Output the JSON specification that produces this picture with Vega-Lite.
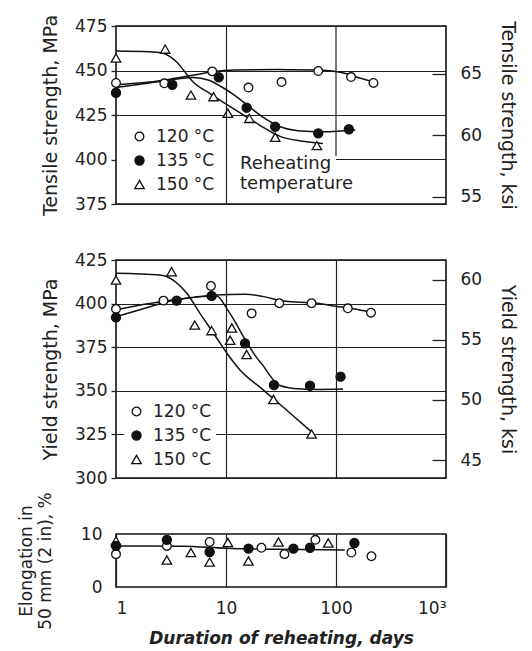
{
  "$schema": "https://vega.github.io/schema/vega-lite/v6.json",
  "background": "white",
  "padding": {"left": 16, "top": 13, "right": 5, "bottom": 5},
  "spacing": 56,
  "bounds": "flush",
  "config": {
    "font": "DejaVu Sans",
    "view": {"stroke": "#111", "strokeWidth": 1.6},
    "axis": {
      "labelFont": "DejaVu Sans", "labelFontSize": 17, "labelColor": "#222",
      "titleFont": "DejaVu Sans", "titleFontSize": 19, "titleFontWeight": "normal", "titleColor": "#222",
      "gridColor": "#222", "gridOpacity": 1, "gridWidth": 1.2, "tickColor": "#222", "tickWidth": 1.3, "domain": false
    },
    "legend": {
      "orient": "none", "padding": 4, "rowPadding": 6, "labelOffset": 8,
      "labelFont": "DejaVu Sans", "labelFontSize": 17, "labelColor": "#222",
      "titleFont": "DejaVu Sans", "titleFontSize": 18, "titleFontWeight": "normal", "titleColor": "#222",
      "symbolStrokeColor": "#111", "symbolStrokeWidth": 1.3, "zindex": 1
    }
  },
  "datasets": {
    "tensile_pts": [
      {"temp": "120 °C", "days": 1, "mpa": 443}, {"temp": "120 °C", "days": 2.75, "mpa": 442.8}, {"temp": "120 °C", "days": 7.5, "mpa": 449.5}, {"temp": "120 °C", "days": 16, "mpa": 440.4}, {"temp": "120 °C", "days": 32, "mpa": 443.5}, {"temp": "120 °C", "days": 69, "mpa": 449.7}, {"temp": "120 °C", "days": 137, "mpa": 446.3}, {"temp": "120 °C", "days": 219, "mpa": 443},
      {"temp": "135 °C", "days": 1, "mpa": 437.5}, {"temp": "135 °C", "days": 3.25, "mpa": 442}, {"temp": "135 °C", "days": 8.6, "mpa": 446.2}, {"temp": "135 °C", "days": 15.4, "mpa": 429.1}, {"temp": "135 °C", "days": 28, "mpa": 418.4}, {"temp": "135 °C", "days": 69, "mpa": 414.7}, {"temp": "135 °C", "days": 131, "mpa": 417},
      {"temp": "150 °C", "days": 1, "mpa": 457}, {"temp": "150 °C", "days": 2.8, "mpa": 462}, {"temp": "150 °C", "days": 4.8, "mpa": 436.2}, {"temp": "150 °C", "days": 7.7, "mpa": 435.3}, {"temp": "150 °C", "days": 10.4, "mpa": 426}, {"temp": "150 °C", "days": 16.3, "mpa": 423.1}, {"temp": "150 °C", "days": 28, "mpa": 412.5}, {"temp": "150 °C", "days": 67, "mpa": 407.8}
    ],
    "tensile_curves": [
      {"temp": "120 °C", "days": 1, "mpa": 442}, {"temp": "120 °C", "days": 2, "mpa": 443.5}, {"temp": "120 °C", "days": 3, "mpa": 445}, {"temp": "120 °C", "days": 5, "mpa": 447.3}, {"temp": "120 °C", "days": 7.5, "mpa": 449.3}, {"temp": "120 °C", "days": 12, "mpa": 450.3}, {"temp": "120 °C", "days": 30, "mpa": 450.5}, {"temp": "120 °C", "days": 70, "mpa": 450.3}, {"temp": "120 °C", "days": 110, "mpa": 449}, {"temp": "120 °C", "days": 150, "mpa": 446.5}, {"temp": "120 °C", "days": 220, "mpa": 443.5},
      {"temp": "135 °C", "days": 1, "mpa": 440.5}, {"temp": "135 °C", "days": 2, "mpa": 443}, {"temp": "135 °C", "days": 3, "mpa": 444.5}, {"temp": "135 °C", "days": 5, "mpa": 446}, {"temp": "135 °C", "days": 7, "mpa": 444.5}, {"temp": "135 °C", "days": 9, "mpa": 441}, {"temp": "135 °C", "days": 12, "mpa": 436}, {"temp": "135 °C", "days": 16, "mpa": 430}, {"temp": "135 °C", "days": 22, "mpa": 423.5}, {"temp": "135 °C", "days": 31, "mpa": 418.4}, {"temp": "135 °C", "days": 45, "mpa": 416.2}, {"temp": "135 °C", "days": 76, "mpa": 415.6}, {"temp": "135 °C", "days": 150, "mpa": 416.6},
      {"temp": "150 °C", "days": 1, "mpa": 461}, {"temp": "150 °C", "days": 2, "mpa": 460.6}, {"temp": "150 °C", "days": 2.6, "mpa": 460}, {"temp": "150 °C", "days": 3.1, "mpa": 457.8}, {"temp": "150 °C", "days": 3.6, "mpa": 454.5}, {"temp": "150 °C", "days": 4.1, "mpa": 450.3}, {"temp": "150 °C", "days": 5, "mpa": 443.7}, {"temp": "150 °C", "days": 7.1, "mpa": 437.2}, {"temp": "150 °C", "days": 10.9, "mpa": 429.7}, {"temp": "150 °C", "days": 14, "mpa": 425.5}, {"temp": "150 °C", "days": 20, "mpa": 419.5}, {"temp": "150 °C", "days": 31, "mpa": 413}, {"temp": "150 °C", "days": 50, "mpa": 410.3}, {"temp": "150 °C", "days": 76, "mpa": 409}
    ],
    "tensile_grid_h": [{"mpa": 400, "from": 100, "to": 1000}],
    "tensile_grid_v": [{"days": 100, "low": 402, "high": 475}],
    "tensile_ksi": [{"ksi": 55}, {"ksi": 60}, {"ksi": 65}],
    "yield_pts": [
      {"temp": "120 °C", "days": 1, "mpa": 396.9}, {"temp": "120 °C", "days": 2.7, "mpa": 401.7}, {"temp": "120 °C", "days": 7.3, "mpa": 410.1}, {"temp": "120 °C", "days": 17.1, "mpa": 394.4}, {"temp": "120 °C", "days": 30.5, "mpa": 400.2}, {"temp": "120 °C", "days": 60, "mpa": 400.2}, {"temp": "120 °C", "days": 128, "mpa": 397.3}, {"temp": "120 °C", "days": 208, "mpa": 394.8},
      {"temp": "135 °C", "days": 1, "mpa": 392.1}, {"temp": "135 °C", "days": 3.56, "mpa": 401.7}, {"temp": "135 °C", "days": 7.4, "mpa": 404.4}, {"temp": "135 °C", "days": 14.9, "mpa": 377.2}, {"temp": "135 °C", "days": 27.3, "mpa": 353.3}, {"temp": "135 °C", "days": 58, "mpa": 352.9}, {"temp": "135 °C", "days": 110, "mpa": 358.1},
      {"temp": "150 °C", "days": 1, "mpa": 413.5}, {"temp": "150 °C", "days": 3.2, "mpa": 418.3}, {"temp": "150 °C", "days": 5.2, "mpa": 387.7}, {"temp": "150 °C", "days": 7.4, "mpa": 384.5}, {"temp": "150 °C", "days": 11.3, "mpa": 386}, {"temp": "150 °C", "days": 10.9, "mpa": 379}, {"temp": "150 °C", "days": 15.4, "mpa": 370.8}, {"temp": "150 °C", "days": 27, "mpa": 345}, {"temp": "150 °C", "days": 60, "mpa": 325.2}
    ],
    "yield_curves": [
      {"temp": "120 °C", "days": 1, "mpa": 396.5}, {"temp": "120 °C", "days": 2, "mpa": 400}, {"temp": "120 °C", "days": 3, "mpa": 401.8}, {"temp": "120 °C", "days": 5, "mpa": 403.5}, {"temp": "120 °C", "days": 8, "mpa": 405}, {"temp": "120 °C", "days": 15, "mpa": 405.3}, {"temp": "120 °C", "days": 22, "mpa": 404}, {"temp": "120 °C", "days": 33, "mpa": 401.5}, {"temp": "120 °C", "days": 67, "mpa": 400.2}, {"temp": "120 °C", "days": 100, "mpa": 398.5}, {"temp": "120 °C", "days": 143, "mpa": 397}, {"temp": "120 °C", "days": 210, "mpa": 395},
      {"temp": "135 °C", "days": 1, "mpa": 392.5}, {"temp": "135 °C", "days": 2, "mpa": 398}, {"temp": "135 °C", "days": 2.9, "mpa": 401.1}, {"temp": "135 °C", "days": 3.8, "mpa": 402.5}, {"temp": "135 °C", "days": 6, "mpa": 404}, {"temp": "135 °C", "days": 8.2, "mpa": 404.3}, {"temp": "135 °C", "days": 10.2, "mpa": 397}, {"temp": "135 °C", "days": 12, "mpa": 390}, {"temp": "135 °C", "days": 14.4, "mpa": 381}, {"temp": "135 °C", "days": 19, "mpa": 369}, {"temp": "135 °C", "days": 22, "mpa": 364}, {"temp": "135 °C", "days": 26, "mpa": 357.5}, {"temp": "135 °C", "days": 31, "mpa": 353}, {"temp": "135 °C", "days": 44, "mpa": 351.2}, {"temp": "135 °C", "days": 70, "mpa": 350.8}, {"temp": "135 °C", "days": 116, "mpa": 351},
      {"temp": "150 °C", "days": 1, "mpa": 417.4}, {"temp": "150 °C", "days": 2.5, "mpa": 416.4}, {"temp": "150 °C", "days": 3.3, "mpa": 413.5}, {"temp": "150 °C", "days": 4.4, "mpa": 405.9}, {"temp": "150 °C", "days": 5.8, "mpa": 394.4}, {"temp": "150 °C", "days": 7.7, "mpa": 383}, {"temp": "150 °C", "days": 10.2, "mpa": 371.5}, {"temp": "150 °C", "days": 13.4, "mpa": 361.9}, {"temp": "150 °C", "days": 21.8, "mpa": 350.5}, {"temp": "150 °C", "days": 35.5, "mpa": 339}, {"temp": "150 °C", "days": 62, "mpa": 325.6}
    ],
    "yield_ksi": [{"ksi": 45}, {"ksi": 50}, {"ksi": 55}, {"ksi": 60}],
    "elong_pts": [
      {"temp": "150 °C", "days": 1, "pct": 8.7}, {"temp": "150 °C", "days": 2.9, "pct": 5.1}, {"temp": "150 °C", "days": 4.8, "pct": 6.5}, {"temp": "150 °C", "days": 7.1, "pct": 4.7}, {"temp": "150 °C", "days": 10.4, "pct": 8.4}, {"temp": "150 °C", "days": 16, "pct": 4.9}, {"temp": "150 °C", "days": 30, "pct": 8.5}, {"temp": "150 °C", "days": 85, "pct": 8.3},
      {"temp": "120 °C", "days": 1, "pct": 6.2}, {"temp": "120 °C", "days": 2.9, "pct": 7.75}, {"temp": "120 °C", "days": 7.1, "pct": 8.5}, {"temp": "120 °C", "days": 21, "pct": 7.4}, {"temp": "120 °C", "days": 34, "pct": 6.2}, {"temp": "120 °C", "days": 65, "pct": 8.9}, {"temp": "120 °C", "days": 138, "pct": 6.5}, {"temp": "120 °C", "days": 210, "pct": 5.8},
      {"temp": "135 °C", "days": 1, "pct": 7.75}, {"temp": "135 °C", "days": 2.9, "pct": 8.9}, {"temp": "135 °C", "days": 7.1, "pct": 6.6}, {"temp": "135 °C", "days": 16, "pct": 7.25}, {"temp": "135 °C", "days": 41, "pct": 7.25}, {"temp": "135 °C", "days": 58, "pct": 7.4}, {"temp": "135 °C", "days": 147, "pct": 8.3}
    ],
    "elong_curve": [
      {"days": 1, "pct": 7.75}, {"days": 4, "pct": 7.7}, {"days": 10, "pct": 7.3}, {"days": 30, "pct": 7.1}, {"days": 120, "pct": 7.0}
    ]
  },
  "vconcat": [
    {
      "width": 330, "height": 178,
      "layer": [
        {
          "layer": [
            {
              "data": {"name": "tensile_curves"},
              "mark": {"type": "line", "color": "#111", "strokeWidth": 1.5, "interpolate": "monotone"},
              "encoding": {
                "x": {"field": "days", "type": "quantitative", "scale": {"type": "log", "domain": [1, 1000], "nice": false},
                      "axis": {"values": [10], "labels": false, "ticks": false, "domain": false, "grid": true, "title": null, "zindex": 2}},
                "y": {"field": "mpa", "type": "quantitative", "scale": {"domain": [375, 475], "nice": false, "zero": false},
                      "axis": {"values": [375, 400, 425, 450, 475], "title": "Tensile strength, MPa", "tickSize": 5, "labelPadding": 4, "titlePadding": 14, "grid": true,
                               "gridOpacity": {"condition": {"test": "datum.value == 400", "value": 0}, "value": 1}}},
                "detail": {"field": "temp"}
              }
            },
            {
              "data": {"name": "tensile_grid_h"},
              "mark": {"type": "rule", "color": "#222", "strokeWidth": 1.2},
              "encoding": {
                "x": {"field": "from", "type": "quantitative"},
                "x2": {"field": "to"},
                "y": {"field": "mpa", "type": "quantitative"}
              }
            },
            {
              "data": {"name": "tensile_grid_v"},
              "mark": {"type": "rule", "color": "#222", "strokeWidth": 1.2},
              "encoding": {
                "x": {"field": "days", "type": "quantitative"},
                "y": {"field": "low", "type": "quantitative"},
                "y2": {"field": "high"}
              }
            },
            {
              "data": {"name": "tensile_pts"},
              "mark": {"type": "point", "filled": true, "strokeWidth": 1.3, "opacity": 1},
              "encoding": {
                "x": {"field": "days", "type": "quantitative"},
                "y": {"field": "mpa", "type": "quantitative"},
                "shape": {"field": "temp", "type": "nominal", "scale": {"domain": ["120 °C", "135 °C", "150 °C"], "range": ["circle", "circle", "triangle-up"]},
                          "legend": {"title": ["Reheating", "temperature"], "titleOrient": "right", "titleAnchor": "end", "titlePadding": 26, "legendX": 11, "legendY": 98}},
                "fill": {"field": "temp", "type": "nominal", "scale": {"domain": ["120 °C", "135 °C", "150 °C"], "range": ["white", "#111", "white"]},
                         "legend": {"title": ["Reheating", "temperature"], "titleOrient": "right", "titleAnchor": "end", "titlePadding": 26, "legendX": 11, "legendY": 98}},
                "stroke": {"field": "temp", "type": "nominal", "scale": {"domain": ["120 °C", "135 °C", "150 °C"], "range": ["#111", "#111", "#111"]},
                         "legend": {"title": ["Reheating", "temperature"], "titleOrient": "right", "titleAnchor": "end", "titlePadding": 26, "legendX": 11, "legendY": 98}},
                "size": {"field": "temp", "type": "nominal", "scale": {"domain": ["120 °C", "135 °C", "150 °C"], "range": [75, 90, 150]},
                         "legend": {"title": ["Reheating", "temperature"], "titleOrient": "right", "titleAnchor": "end", "titlePadding": 26, "legendX": 11, "legendY": 98}}
              }
            }
          ]
        },
        {
          "data": {"name": "tensile_ksi"},
          "mark": {"type": "point", "opacity": 0},
          "encoding": {
            "y": {"field": "ksi", "type": "quantitative", "scale": {"domain": [54.39, 68.89], "nice": false, "zero": false},
                  "axis": {"orient": "right", "values": [55, 60, 65], "title": "Tensile strength, ksi", "offset": -14, "tickSize": 14, "labelPadding": 14, "titlePadding": 16, "grid": false}}
          }
        }
      ],
      "resolve": {"scale": {"y": "independent"}}
    },
    {
      "width": 330, "height": 218,
      "layer": [
        {
          "layer": [
            {
              "data": {"name": "yield_curves"},
              "mark": {"type": "line", "color": "#111", "strokeWidth": 1.5, "interpolate": "monotone"},
              "encoding": {
                "x": {"field": "days", "type": "quantitative", "scale": {"type": "log", "domain": [1, 1000], "nice": false},
                      "axis": {"values": [10, 100], "labels": false, "ticks": false, "domain": false, "grid": true, "title": null, "zindex": 2}},
                "y": {"field": "mpa", "type": "quantitative", "scale": {"domain": [300, 425], "nice": false, "zero": false},
                      "axis": {"values": [300, 325, 350, 375, 400, 425], "title": "Yield strength, MPa", "tickSize": 5, "labelPadding": 4, "titlePadding": 14, "grid": true}},
                "detail": {"field": "temp"}
              }
            },
            {
              "data": {"name": "yield_pts"},
              "mark": {"type": "point", "filled": true, "strokeWidth": 1.3, "opacity": 1},
              "encoding": {
                "x": {"field": "days", "type": "quantitative"},
                "y": {"field": "mpa", "type": "quantitative"},
                "shape": {"field": "temp", "type": "nominal", "scale": {"domain": ["120 °C", "135 °C", "150 °C"], "range": ["circle", "circle", "triangle-up"]},
                          "legend": {"title": null, "fillColor": "white", "legendX": 8, "legendY": 139}},
                "fill": {"field": "temp", "type": "nominal", "scale": {"domain": ["120 °C", "135 °C", "150 °C"], "range": ["white", "#111", "white"]},
                         "legend": {"title": null, "fillColor": "white", "legendX": 8, "legendY": 139}},
                "stroke": {"field": "temp", "type": "nominal", "scale": {"domain": ["120 °C", "135 °C", "150 °C"], "range": ["#111", "#111", "#111"]},
                         "legend": {"title": null, "fillColor": "white", "legendX": 8, "legendY": 139}},
                "size": {"field": "temp", "type": "nominal", "scale": {"domain": ["120 °C", "135 °C", "150 °C"], "range": [75, 90, 150]},
                         "legend": {"title": null, "fillColor": "white", "legendX": 8, "legendY": 139}}
              }
            }
          ]
        },
        {
          "data": {"name": "yield_ksi"},
          "mark": {"type": "point", "opacity": 0},
          "encoding": {
            "y": {"field": "ksi", "type": "quantitative", "scale": {"domain": [43.51, 61.64], "nice": false, "zero": false},
                  "axis": {"orient": "right", "values": [45, 50, 55, 60], "title": "Yield strength, ksi", "offset": -14, "tickSize": 14, "labelPadding": 14, "titlePadding": 16, "grid": false}}
          }
        }
      ],
      "resolve": {"scale": {"y": "independent"}}
    },
    {
      "width": 330, "height": 53,
      "layer": [
        {
          "data": {"name": "elong_curve"},
          "mark": {"type": "line", "color": "#111", "strokeWidth": 1.5, "interpolate": "monotone"},
          "encoding": {
            "x": {"field": "days", "type": "quantitative", "scale": {"type": "log", "domain": [1, 1000], "nice": false},
                  "axis": {"values": [1, 10, 100, 1000], "labelExpr": "datum.value == 1000 ? '10³' : datum.label", "ticks": false, "domain": false, "grid": true, "labelPadding": 13, "title": "Duration of reheating, days", "titleFontSize": 17, "titleFontStyle": "italic", "titleFontWeight": "bold", "titlePadding": 14}},
            "y": {"field": "pct", "type": "quantitative", "scale": {"domain": [0, 10], "nice": false},
                  "axis": {"values": [0, 10], "title": ["Elongation in", "50 mm (2 in), %"], "titleFontSize": 17, "tickSize": 0, "labelPadding": 14, "titlePadding": 26, "grid": false}}
          }
        },
        {
          "data": {"name": "elong_pts"},
          "mark": {"type": "point", "filled": true, "strokeWidth": 1.3, "opacity": 1},
          "encoding": {
            "x": {"field": "days", "type": "quantitative"},
            "y": {"field": "pct", "type": "quantitative"},
            "shape": {"field": "temp", "type": "nominal", "scale": {"domain": ["120 °C", "135 °C", "150 °C"], "range": ["circle", "circle", "triangle-up"]}, "legend": null},
            "fill": {"field": "temp", "type": "nominal", "scale": {"domain": ["120 °C", "135 °C", "150 °C"], "range": ["white", "#111", "white"]}, "legend": null},
            "stroke": {"field": "temp", "type": "nominal", "scale": {"domain": ["120 °C", "135 °C", "150 °C"], "range": ["#111", "#111", "#111"]}, "legend": null},
            "size": {"field": "temp", "type": "nominal", "scale": {"domain": ["120 °C", "135 °C", "150 °C"], "range": [75, 90, 150]}, "legend": null}
          }
        }
      ]
    }
  ],
  "resolve": {"scale": {"shape": "independent", "fill": "independent", "stroke": "independent", "size": "independent"}, "legend": {"shape": "independent", "fill": "independent", "stroke": "independent", "size": "independent"}}
}
